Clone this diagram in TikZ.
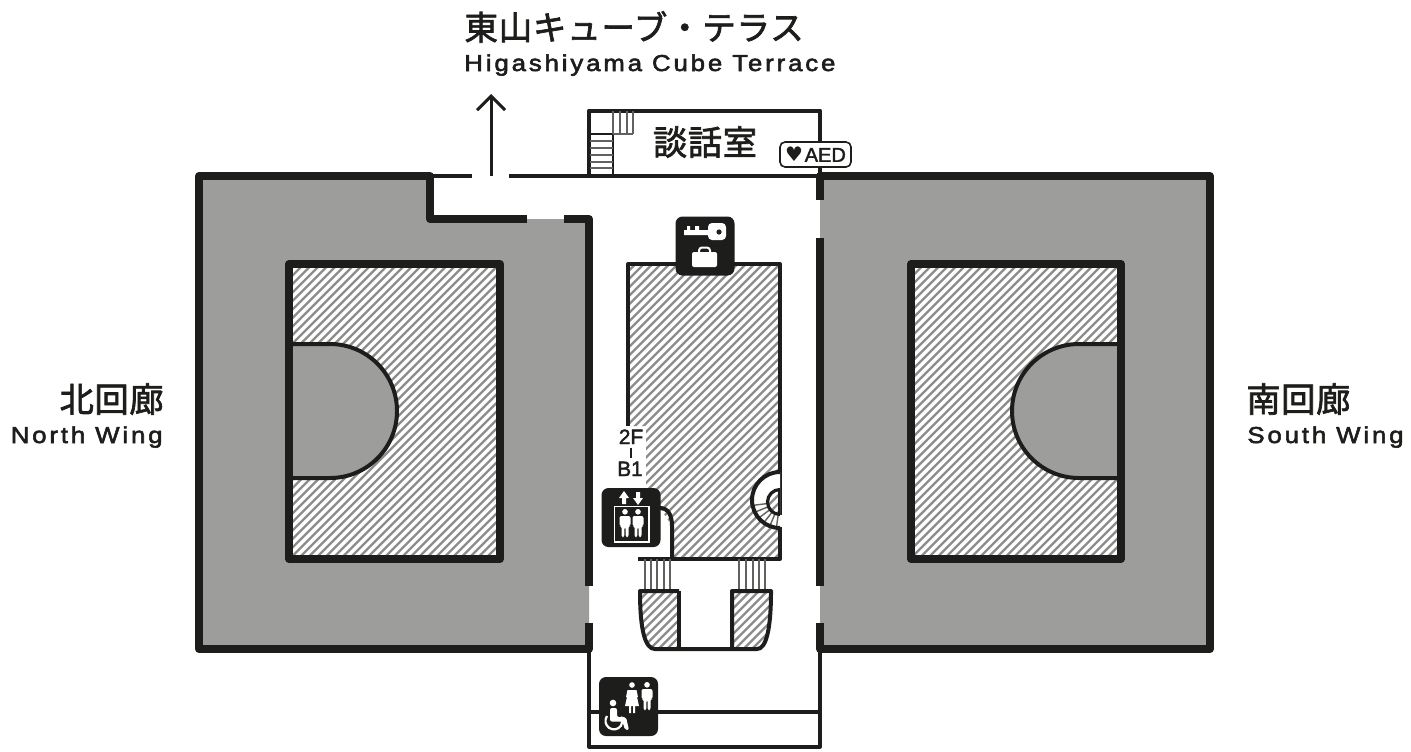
\documentclass[tikz,border=0pt]{standalone}
\usepackage{fontspec}
\setmainfont{Liberation Sans}
\newfontfamily\cjkfont[FakeBold=2,LetterSpace=2]{Noto Sans CJK JP}
\newfontfamily\labelfont[FakeBold=2.5,FakeStretch=1.12,LetterSpace=12.5]{Liberation Sans}
\newfontfamily\tagfont[FakeBold=2]{Liberation Sans}
\newfontfamily\symfont{DejaVu Sans}
\usetikzlibrary{arrows.meta}
\definecolor{ink}{HTML}{1D1D1B}
\definecolor{wing}{HTML}{9D9D9C}
\definecolor{hatch}{HTML}{8C8C8C}
\tikzset{
	wall/.style={draw=ink,line width=4pt,line join=round},
	thinwall/.style={draw=ink,line width=2pt,line join=round},
	stairline/.style={draw=ink!70,line width=0.7pt},
	hatchline/.style={draw=hatch,line width=1.15pt},
	iconbox/.style={fill=ink,rounded corners=3.5pt,minimum size=29.5pt,inner sep=0pt},
	jplabel/.style={font=\cjkfont\fontsize{17.1}{20}\selectfont,text=ink,inner sep=0pt},
	enlabel/.style={font=\labelfont\fontsize{11.5}{12}\selectfont,text=ink,inner sep=0pt},
	smalllabel/.style={font=\tagfont\fontsize{10.4}{12}\selectfont,text=ink,inner sep=0pt},
}
\newcommand{\hatchfill}[1]{\begin{scope}\clip #1;
	\fill[white] (0,0) rectangle (1411,751);
	\foreach \k in {500,508.5,...,2000} \draw[hatchline] (\k,0) -- ++(-800,800);
	\end{scope}}
% standing figure, #1 centre x, #2 top of head
\newcommand{\manfig}[2]{\fill[white] (#1,#2+2.8) circle (2.8);
	\fill[white,rounded corners=1pt] (#1-5.5,#2+7) -- (#1+5.5,#2+7) -- (#1+5.5,#2+17) -- (#1+3.5,#2+17) -- (#1+3.5,#2+28) -- (#1+.6,#2+28) -- (#1+.6,#2+18) -- (#1-.6,#2+18) -- (#1-.6,#2+28) -- (#1-3.5,#2+28) -- (#1-3.5,#2+17) -- (#1-5.5,#2+17) -- cycle;}
\begin{document}
\begin{tikzpicture}[x=0.5pt,y=-0.5pt]
	\useasboundingbox (0,0) rectangle (1411,751);
	% wings
	\fill[wing] (199,176) -- (430,176) -- (430,219) -- (589,219) -- (589,649) -- (199,649) -- cycle;
	\fill[wing] (820,176) -- (1210,176) -- (1210,649) -- (820,649) -- cycle;
	% hatched areas
	\hatchfill{(289,264) -- (500,264) -- (500,559) -- (289,559) -- (289,478) -- (330,478) arc[start angle=90,end angle=-90,radius=67] -- (289,344) -- cycle}
	\hatchfill{(911,264) -- (1121,264) -- (1121,344) -- (1079,344) arc[start angle=-90,end angle=-270,radius=67] -- (1121,478) -- (1121,559) -- (911,559) -- cycle}
	\hatchfill{(628,264) -- (780,264) -- (780,559) -- (672,559) -- (672,526) -- (660,508) -- (646,508) -- (646,426) -- (628,426) -- cycle}
	\hatchfill{(640,591) -- (679,591) -- (679,649) -- (655,649) .. controls (645,649) and (640,630) .. (640,591) -- cycle}
	\hatchfill{(732,591) -- (771,591) .. controls (771,630) and (766,649) .. (757,649) -- (732,649) -- cycle}
	% north wing
	\draw[wall] (527,219) -- (430,219) -- (430,176) -- (199,176) -- (199,649) -- (589,649) -- (589,623);
	\draw[wall] (564,219) -- (589,219) -- (589,586);
	\draw[wall] (289,264) rectangle (500,559);
	\draw[thinwall] (289,344) -- (330,344) arc[start angle=-90,end angle=90,radius=67] -- (289,478);
	% south wing
	\draw[wall] (820,200) -- (820,176) -- (1210,176) -- (1210,649) -- (820,649) -- (820,623);
	\draw[wall] (820,238) -- (820,586);
	\draw[wall] (911,264) rectangle (1121,559);
	\draw[thinwall] (1121,344) -- (1079,344) arc[start angle=-90,end angle=-270,radius=67] -- (1121,478);
	% front wall and upper room
	\draw[thinwall] (430,175.5) -- (472,175.5);
	\draw[thinwall] (509,175.5) -- (820,175.5);
	\draw[thinwall] (589,175.5) -- (589,110.5) -- (820,110.5) -- (820,175.5);
	\draw[thinwall,line width=1pt] (613,175.5) -- (613,134) -- (589,134);
	\foreach \y in {141,148,155,162,168} \draw[stairline] (590,\y) -- (613,\y);
	\foreach \x in {613,620,627,633} \draw[stairline] (\x,111) -- (\x,134);
	\draw[stairline] (613,134) -- (633,134);
	% central block
	\draw[thinwall] (628,426) -- (628,264) -- (780,264) -- (780,515);
	\draw[thinwall] (780,527) -- (780,559) -- (638,559);
	\draw[thinwall] (660,508) .. controls (668,508) and (672,515) .. (672,526) -- (672,559);
	% spiral stair
	\fill[white,even odd rule] (780,472) arc[start angle=-90,end angle=-270,radius=28] -- cycle (780,489.5) arc[start angle=-90,end angle=-270,radius=12.5] -- cycle;
	\foreach \a in {98,113,128,143,158,173} \draw[stairline] (780,502) ++(\a:13) -- ++(\a:14);
	\draw[thinwall] (780,472) arc[start angle=-90,end angle=-270,radius=28];
	\draw[thinwall,line width=1.6pt] (780,489.5) arc[start angle=-90,end angle=-270,radius=12.5];
	% lower stairs and piers
	\foreach \x in {645,651,657,664,670,739,746,753,759,765} \draw[stairline] (\x,559) -- (\x,591);
	\draw[thinwall] (679,591) -- (640,591) .. controls (640,630) and (645,649) .. (655,649) -- (757,649) .. controls (766,649) and (771,630) .. (771,591) -- (732,591) -- (732,649);
	\draw[thinwall] (679,591) -- (679,649);
	% lower room
	\draw[thinwall] (589,649) -- (589,746.5) -- (820,746.5) -- (820,649);
	\draw[thinwall] (589,712) -- (820,712);
	% way out
	\coordinate (terraceFoot) at (491,176);
	\coordinate (terraceTip) at (491,94);
	\draw[-{Straight Barb[length=7pt,width=14pt]},draw=ink,line width=1.5pt] (terraceFoot) -- (terraceTip);
	% lift icon
	\node[iconbox] (liftIcon) at (631,517.5) {};
	\draw[white,line width=0.8pt] (614.5,506.5) rectangle (649,542);
	\manfig{625}{509}
	\manfig{638}{509}
	\fill[white] (622,504) -- (622,498) -- (619,498) -- (624,491) -- (629,498) -- (626,498) -- (626,504) -- cycle;
	\fill[white] (636,492) -- (636,498) -- (633,498) -- (638,505) -- (643,498) -- (640,498) -- (640,492) -- cycle;
	% locker icon
	\node[iconbox] (lockerIcon) at (705,246) {};
	\fill[white,rounded corners=2pt] (708,223) rectangle (726,240);
	\fill[white] (684,230) -- (687,230) -- (687,226) -- (690,226) -- (690,230) -- (695,230) -- (695,226) -- (699,226) -- (699,230) -- (710,230) -- (710,235) -- (684,235) -- cycle;
	\fill[ink] (719,232) circle (2.6);
	\fill[white,rounded corners=1pt] (692,252) rectangle (717,267);
	\draw[white,line width=1pt,rounded corners=1.5pt] (699,252) -- (699,247.5) -- (710,247.5) -- (710,252);
	% toilet icon
	\node[iconbox] (toiletIcon) at (628.5,706.5) {};
	\manfig{647}{682}
	\fill[white] (632,685) circle (2.8);
	\fill[white] (627.5,690) -- (636.5,690) -- (638,697) -- (637,697) -- (639,706) -- (635,706) -- (635,713) -- (633,713) -- (633,706) -- (631,706) -- (631,713) -- (629,713) -- (629,706) -- (625,706) -- (627,697) -- (626,697) -- cycle;
	\fill[white] (613,703) circle (3.3);
	\fill[white,rounded corners=1pt] (610,708) -- (617,708) -- (617,717) -- (626,717) -- (629,730) -- (625,730) -- (622.5,721.5) -- (610,721.5) -- cycle;
	\draw[white,line width=1.1pt] (607,716) arc[start angle=215,end angle=-30,radius=8.5];
	% texts
	\node[jplabel,font=\cjkfont\fontsize{16.8}{20}\selectfont,anchor=base west] (terraceJp) at (464,40) {東山キューブ・テラス};
	\node[enlabel,anchor=base west] (terraceEn) at (464,71) {Higashiyama Cube Terrace};
	\node[jplabel,anchor=base] (roomJp) at (705,155) {談話室};
	\node[jplabel,anchor=base east] (northJp) at (164,412) {北回廊};
	\node[enlabel,anchor=base east] (northEn) at (163,443) {North Wing};
	\node[jplabel,anchor=base west] (southJp) at (1246,412) {南回廊};
	\node[enlabel,anchor=base west] (southEn) at (1247,443) {South Wing};
	\node[smalllabel,anchor=base] (upperFloor) at (631,444) {2F};
	\node[smalllabel,anchor=base] (lowerFloor) at (630,476) {B1};
	\draw[ink,line width=0.8pt] (upperFloor.south) ++(0,4) -- ++(0,10);
	\node[draw=ink,fill=white,line width=0.8pt,rounded corners=2.5pt,minimum width=35.5pt,minimum height=12.5pt,inner sep=0pt,font=\tagfont\fontsize{10}{12}\selectfont,text=ink] (aedTag) at (815.5,154.5) {{\symfont\fontsize{10}{12}\selectfont♥}\kern.8pt AED};
\end{tikzpicture}
\end{document}
